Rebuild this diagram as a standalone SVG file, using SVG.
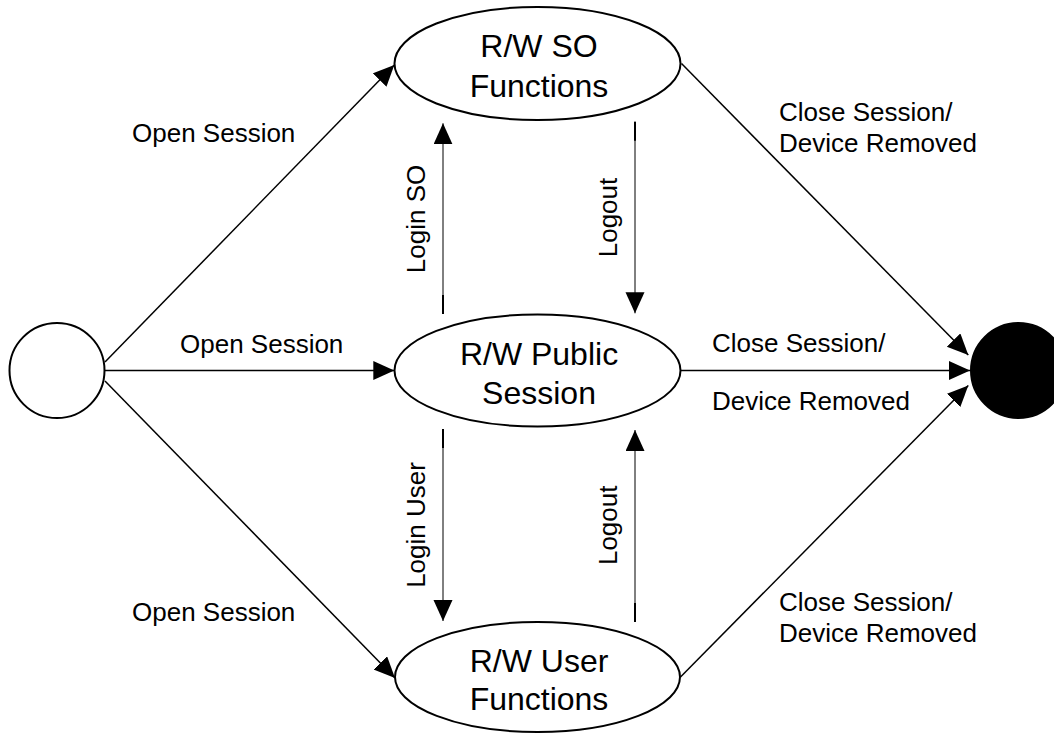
<svg xmlns="http://www.w3.org/2000/svg" width="1054" height="733" viewBox="0 0 1054 733">
<style>
.node{fill:#fff;stroke:#000;stroke-width:2}
.ntxt{font-family:"Liberation Sans",Arial,sans-serif;font-size:32px;fill:#000;text-anchor:middle}
.lbl{font-family:"Liberation Sans",Arial,sans-serif;font-size:26px;fill:#000}
.rot{text-anchor:middle}
.diag{stroke:#000;stroke-width:1.5;fill:none}
.vert{stroke:#000;stroke-width:1;fill:none}
.tick{stroke:#000;stroke-width:2;fill:none}
</style>
<defs>
<marker id="ah" markerUnits="userSpaceOnUse" markerWidth="22" markerHeight="20" refX="21" refY="9.5" orient="auto" viewBox="0 0 22 20">
<path d="M0,0 L21,9.5 L0,19 Z" fill="#000"/>
</marker>
</defs>
<rect width="1054" height="733" fill="#fff"/>
<g id="connectors">
<line class="diag" x1="105" y1="362" x2="394.3" y2="65" marker-end="url(#ah)"/>
<line class="diag" x1="105" y1="370.5" x2="394.3" y2="370.5" marker-end="url(#ah)"/>
<line class="diag" x1="105" y1="381" x2="395" y2="678" marker-end="url(#ah)"/>
<line class="diag" x1="681.5" y1="63.5" x2="968.3" y2="355" marker-end="url(#ah)"/>
<line class="diag" x1="681" y1="370.5" x2="970" y2="370.5" marker-end="url(#ah)"/>
<line class="diag" x1="680.5" y1="677" x2="968.3" y2="385.5" marker-end="url(#ah)"/>
<line class="vert" x1="443" y1="314" x2="443" y2="123.3" marker-end="url(#ah)"/>
<line class="tick" x1="443" y1="295" x2="443" y2="314"/>
<line class="vert" x1="635" y1="121.7" x2="635" y2="313.3" marker-end="url(#ah)"/>
<line class="tick" x1="635" y1="121.7" x2="635" y2="140.7"/>
<line class="vert" x1="443" y1="429" x2="443" y2="621" marker-end="url(#ah)"/>
<line class="tick" x1="443" y1="429" x2="443" y2="448"/>
<line class="vert" x1="635" y1="622" x2="635" y2="430" marker-end="url(#ah)"/>
<line class="tick" x1="635" y1="603" x2="635" y2="622"/>
<text class="lbl" x="132" y="142">Open Session</text>
<text class="lbl" x="180" y="353">Open Session</text>
<text class="lbl" x="132" y="621">Open Session</text>
<text class="lbl" x="779" y="121">Close Session/</text>
<text class="lbl" x="779" y="152">Device Removed</text>
<text class="lbl" x="712" y="352">Close Session/</text>
<text class="lbl" x="712" y="410">Device Removed</text>
<text class="lbl" x="779" y="611">Close Session/</text>
<text class="lbl" x="779" y="642">Device Removed</text>
<text class="lbl rot" transform="translate(424.5,219) rotate(-90)">Login SO</text>
<text class="lbl rot" transform="translate(616.5,217.5) rotate(-90)">Logout</text>
<text class="lbl rot" transform="translate(424.5,525) rotate(-90)">Login User</text>
<text class="lbl rot" transform="translate(616.5,525.3) rotate(-90)">Logout</text>
</g>
<g id="start">
<circle class="node" cx="57" cy="370.5" r="47.5"/>
</g>
<g id="end">
<circle cx="1018.5" cy="370.5" r="47.5" fill="#000" stroke="#000" stroke-width="2"/>
</g>
<g id="so">
<ellipse class="node" cx="537.5" cy="63.5" rx="143" ry="56.5"/>
<text class="ntxt" x="539" y="57">R/W SO</text>
<text class="ntxt" x="539" y="96.5">Functions</text>
</g>
<g id="public">
<ellipse class="node" cx="537.5" cy="370.5" rx="143" ry="56"/>
<text class="ntxt" x="539" y="365">R/W Public</text>
<text class="ntxt" x="539" y="403.5">Session</text>
</g>
<g id="user">
<ellipse class="node" cx="537.5" cy="677" rx="142.5" ry="55"/>
<text class="ntxt" x="539" y="671.5">R/W User</text>
<text class="ntxt" x="539" y="710">Functions</text>
</g>
</svg>
